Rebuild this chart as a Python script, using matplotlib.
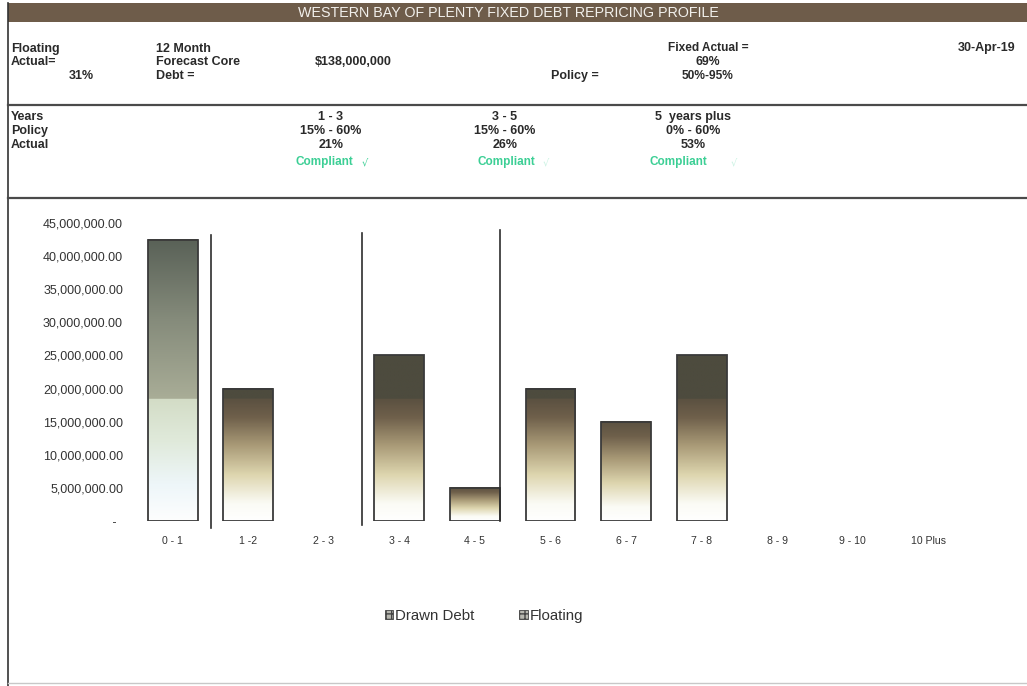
import numpy as np
import matplotlib
matplotlib.use("Agg")
import matplotlib.pyplot as plt
from matplotlib.colors import LinearSegmentedColormap, to_rgb
from matplotlib.patches import Rectangle, Patch
from matplotlib.lines import Line2D
from matplotlib.ticker import FuncFormatter

plt.rcParams["font.family"] = ["Liberation Sans", "DejaVu Sans"]

# repricing buckets and amounts
categories = ["0 - 1", "1 -2", "2 - 3", "3 - 4", "4 - 5", "5 - 6", "6 - 7", "7 - 8", "8 - 9", "9 - 10", "10 Plus"]
drawn_debt = [0, 20_000_000, 0, 25_000_000, 5_000_000, 20_000_000, 15_000_000, 25_000_000, 0, 0, 0]
floating = [42_500_000, 0, 0, 0, 0, 0, 0, 0, 0, 0, 0]
divider_x = [0.5, 2.5, 4.33]

title = "WESTERN BAY OF PLENTY FIXED DEBT REPRICING PROFILE"
report_date = "30-Apr-19"
floating_actual = "31%"
core_debt = "$138,000,000"
fixed_actual = "69%"
fixed_policy = "50%-95%"
bands = ["1 - 3", "3 - 5", "5  years plus"]
band_policy = ["15% - 60%", "15% - 60%", "0% - 60%"]
band_actual = ["21%", "26%", "53%"]

W, H = 1027, 686
fig = plt.figure(figsize=(W / 100, H / 100), dpi=100)


def fx(x):
    return x / W


def fy(y):
    return 1 - y / H


def put(x, y, s, **kw):
    kw.setdefault("fontsize", 9)
    kw.setdefault("fontweight", "bold")
    kw.setdefault("color", "#2a2a2a")
    fig.text(fx(x), fy(y), s, va="center", **kw)


def hline(y, x0=8, x1=W, **kw):
    fig.add_artist(Line2D([fx(x0), fx(x1)], [fy(y), fy(y)], transform=fig.transFigure, **kw))


# header band
fig.add_artist(Rectangle((fx(8), fy(22)), fx(W - 8), 19 / H, transform=fig.transFigure,
                         facecolor="#6e5c4a", edgecolor="none"))
fig.text(fx(508), fy(13), title, ha="center", va="center", color="#f2f0ec", fontsize=10.3)
fig.add_artist(Line2D([fx(8), fx(8)], [fy(3), fy(686)], transform=fig.transFigure, color="#333", lw=1.2))
hline(105, color="#4a4a4a", lw=1.6)
hline(198, color="#4a4a4a", lw=1.6)
hline(683, color="#c8c8c8", lw=1.0)

put(11, 49, "Floating")
put(11, 62, "Actual=")
put(94, 76, floating_actual, ha="right")
put(156, 49, "12 Month")
put(156, 62, "Forecast Core")
put(156, 76, "Debt =")
put(315, 62, core_debt)
put(708, 48, "Fixed Actual =", ha="center", fontsize=8.6)
put(708, 62, fixed_actual, ha="center", fontsize=8.8)
put(551, 76, "Policy =")
put(708, 76, fixed_policy, ha="center", fontsize=8.6)
put(1015, 48, report_date, ha="right", fontsize=9)

put(11, 117, "Years")
put(11, 131, "Policy")
put(11, 145, "Actual")
col_x = [331, 505, 693]
comp_left = [296, 477, 650]
mark_x = [362, 543, 731]
mark_col = ["#3ccf95", "#c9f2e2", "#c9f2e2"]
for cx, band, pol, act, cl, mx, mc in zip(col_x, bands, band_policy, band_actual, comp_left, mark_x, mark_col):
    put(cx, 117, band, ha="center")
    put(cx, 131, pol, ha="center")
    put(cx, 145, act, ha="center")
    put(cl, 162, "Compliant", color="#3ccf95", fontsize=8.5)
    put(mx, 162, "\u221a", color=mc, fontweight="normal", family=["DejaVu Sans"], fontsize=7)

# chart area
ax = fig.add_axes([fx(135), fy(521), fx(966 - 135), (521 - 223) / H])
x = np.arange(len(categories))
width = 0.66
cap = 18_400_000

drawn_cmap = LinearSegmentedColormap.from_list(
    "drawn", [(0, "#ffffff"), (0.14, "#fbfbf5"), (0.38, "#ddd5ae"), (0.62, "#a99a77"),
              (0.85, "#6f604b"), (1.0, "#5b5141")])
float_low = LinearSegmentedColormap.from_list(
    "float_low", [(0, "#fdfefe"), (0.3, "#eef6f9"), (0.65, "#e0eadb"), (1.0, "#d3dcc6")])
float_high = LinearSegmentedColormap.from_list(
    "float_high", [(0, "#a9ad97"), (0.5, "#858b7b"), (1.0, "#596157")])
drawn_top = np.array(to_rgb("#4d4b3e"))


def gradient(h, kind):
    ys = np.linspace(0, h, 300)
    img = np.zeros((len(ys), 1, 3))
    for i, v in enumerate(ys):
        if kind == "drawn":
            if v > cap:
                img[i, 0] = drawn_top
            else:
                img[i, 0] = drawn_cmap(v / min(h, cap))[:3]
        else:
            if v > cap:
                img[i, 0] = float_high((v - cap) / (h - cap))[:3]
            else:
                img[i, 0] = float_low(v / cap)[:3]
    return img


for vals, kind in [(floating, "float"), (drawn_debt, "drawn")]:
    bars = ax.bar(x, vals, width=width, facecolor="none", edgecolor="#3a3a3a", lw=1.3, zorder=3)
    for b in bars:
        h = b.get_height()
        if h <= 0:
            b.set_visible(False)
            continue
        ax.imshow(gradient(h, kind), extent=[b.get_x(), b.get_x() + b.get_width(), 0, h],
                  origin="lower", aspect="auto", zorder=2, interpolation="bilinear")

div_top = [43_200_000, 43_500_000, 43_900_000]
div_bot = [-1_000_000, -600_000, 0]
for dx, t, bt in zip(divider_x, div_top, div_bot):
    ax.plot([dx, dx], [bt, t], color="#2e2e2e", lw=1.2, clip_on=False, zorder=4)

ax.set_xlim(-0.5, len(categories) - 0.5)
ax.set_ylim(0, 45_000_000)
ax.set_yticks(np.arange(0, 45_000_001, 5_000_000))
ax.yaxis.set_major_formatter(FuncFormatter(lambda v, p: " -  " if v == 0 else f"{v:,.2f}"))
ax.set_xticks(x)
ax.set_xticklabels(categories)
ax.tick_params(axis="y", length=0, pad=8.6, labelsize=9, labelcolor="#333")
ax.tick_params(axis="x", length=0, pad=11, labelsize=7.6, labelcolor="#333")
for s in ax.spines.values():
    s.set_visible(False)

handles = [Patch(facecolor="#b8b8b0", edgecolor="#444", hatch="+++", lw=0.6),
           Patch(facecolor="#b8b8b0", edgecolor="#444", hatch="+++", lw=0.6)]
fig.legend(handles, ["Drawn Debt", "Floating"], loc="center", bbox_to_anchor=(fx(484), fy(616)),
           ncol=2, frameon=False, fontsize=10.8, handlelength=0.55, handleheight=0.55,
           handletextpad=0.15, columnspacing=3.0, labelcolor="#333")

fig.savefig("out.png", dpi=100)
